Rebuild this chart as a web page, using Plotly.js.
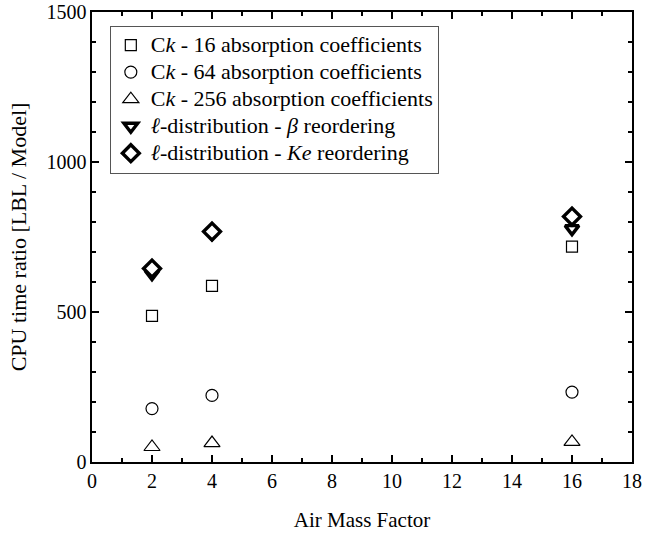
<!DOCTYPE html>
<html>
<head>
<meta charset="utf-8">
<script src="https://cdn.plot.ly/plotly-3.0.1.min.js"></script>
<style>
  html, body { margin: 0; padding: 0; background: #fff; }
  #chart { width: 665px; height: 536px; }
</style>
</head>
<body>
<div id="chart"></div>
<script>
// Air mass factors at which each model was timed
const airMass = [2, 4, 16];

// CPU time ratio (LBL / Model) per model
const ck16 = [487, 587, 718];
const ck64 = [178, 222, 233];
const ck256 = [50, 63, 67];
const ellBeta = [628, 762, 778];
const ellKe = [645, 768, 818];

const seriesNames = [
  'C<i>k</i> - 16 absorption coefficients',
  'C<i>k</i> - 64 absorption coefficients',
  'C<i>k</i> - 256 absorption coefficients',
  '<i>ℓ</i>-distribution - <i>β</i> reordering',
  '<i>ℓ</i>-distribution - <i>Ke</i> reordering'
];

const serif = 'Liberation Serif, Times New Roman, serif';

// legend rows stay compact (row height follows legend.font.size) while the
// entry text itself is set a little larger
function legendLabel(s) {
  return '<span style="font-size:22px">' + s + '</span>';
}

function pts(y, name, symbol, size, lw) {
  return {
    x: airMass, y: y, name: legendLabel(name), type: 'scatter', mode: 'markers',
    marker: { symbol: symbol, size: size, color: '#fff',
              line: { color: '#000', width: lw } },
    cliponaxis: false
  };
}

const traces = [
  pts(ck16, seriesNames[0], 'square', 11, 1.2),
  pts(ck64, seriesNames[1], 'circle', 12, 1.2),
  pts(ck256, seriesNames[2], 'triangle-up', 14, 1.2),
  pts(ellBeta, seriesNames[3], 'triangle-down', 12, 3.4),
  pts(ellKe, seriesNames[4], 'diamond', 13, 3.4)
];

const axisCommon = {
  showgrid: false, zeroline: false,
  showline: true, linecolor: '#000', linewidth: 1.6, mirror: 'allticks',
  ticks: 'inside', ticklen: 7, tickwidth: 1.6, tickcolor: '#000',
  tickfont: { family: serif, size: 20, color: '#000' }
};

const layout = {
  width: 665, height: 536,
  margin: { l: 92, r: 33, t: 12, b: 74 },
  paper_bgcolor: '#fff', plot_bgcolor: '#fff',
  font: { family: serif, color: '#000' },
  showlegend: true,
  legend: {
    x: 0.033, y: 0.97, xanchor: 'left', yanchor: 'top',
    bgcolor: '#fff', bordercolor: '#555', borderwidth: 1,
    font: { family: serif, size: 18.5, color: '#000' },
    tracegroupgap: 0
  },
  xaxis: Object.assign({}, axisCommon, {
    range: [0, 18], dtick: 2, tick0: 0,
    minor: { dtick: 1, ticks: 'inside', ticklen: 4, tickwidth: 1.6, tickcolor: '#000' },
    title: { text: 'Air Mass Factor', font: { family: serif, size: 21, color: '#000' }, standoff: 22 }
  }),
  yaxis: Object.assign({}, axisCommon, {
    range: [0, 1500], dtick: 500, tick0: 0,
    minor: { dtick: 100, ticks: 'inside', ticklen: 4, tickwidth: 1.6, tickcolor: '#000' },
    title: { text: 'CPU time ratio [LBL / Model]', font: { family: serif, size: 22, color: '#000' }, standoff: 14 }
  })
};

Plotly.newPlot('chart', traces, layout, { displayModeBar: false, staticPlot: true });
</script>
</body>
</html>
